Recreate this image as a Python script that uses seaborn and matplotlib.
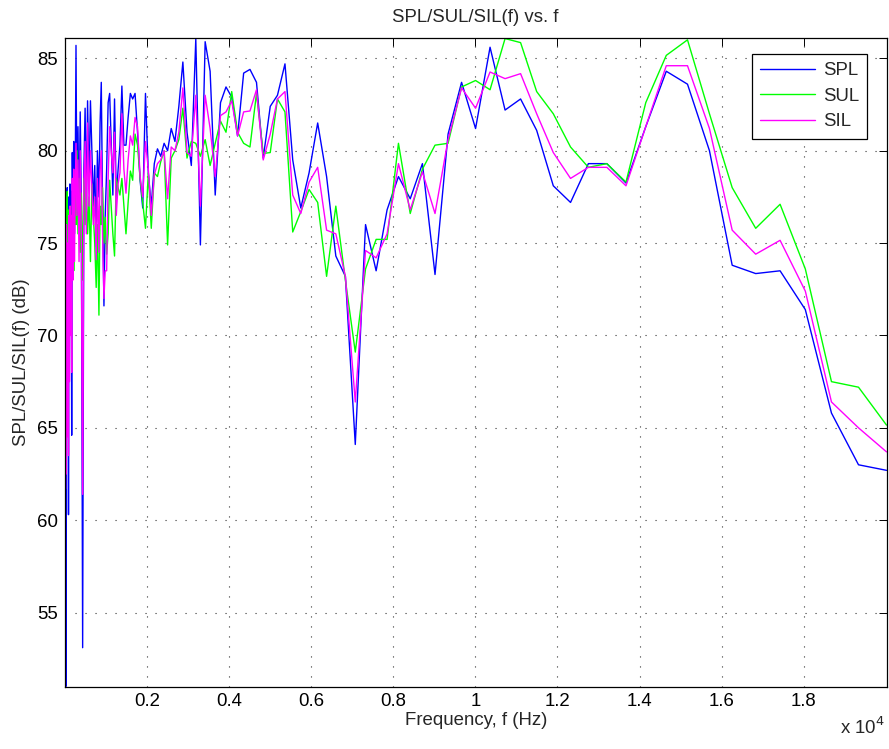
import matplotlib
matplotlib.use("Agg")
import matplotlib.pyplot as plt
import numpy as np
import pandas as pd
import seaborn as sns

# ---------------- data ----------------
freq_hz = [
    3, 10, 20, 28, 36, 45, 55, 65, 75, 85, 96, 108, 120, 133, 147, 163, 178, 195, 212, 230,
    249, 268, 290, 316, 342, 371, 398, 430, 460, 490, 520, 550, 585, 620, 655, 690, 725, 760,
    790, 827, 855, 884, 915, 949, 980,
    1015, 1051, 1088, 1126, 1166, 1207, 1249, 1294, 1339, 1386, 1435, 1486, 1538, 1593, 1649,
    1707, 1767, 1830, 1894, 1961, 2030, 2102, 2176, 2253, 2332, 2415, 2500, 2588, 2679, 2774,
    2872, 2973, 3078, 3187, 3299, 3415, 3536, 3660, 3789, 3923,
    4062, 4205, 4353, 4507, 4666, 4830, 5001, 5177, 5360, 5549, 5745, 5947, 6157, 6374, 6599,
    6832, 7073, 7323, 7581, 7848, 8125, 8412, 8709, 9016, 9334, 9663, 10004, 10357, 10723,
    11101, 11493, 11898, 12318, 12753, 13203, 13669, 14151, 14651, 15168, 15703, 16257, 16830,
    17424, 18039, 18676, 19335, 20017,
]

spl_db = [
    78.0, 76.0, 51.0, 55.0, 77.8, 72.0, 78.0, 68.0, 76.5, 60.3, 77.5, 70.0, 78.2, 73.5, 77.8,
    64.6, 79.9, 74.0, 80.5, 75.5, 78.5, 85.7, 77.0, 81.3, 76.0, 82.1, 77.0, 53.1, 79.0, 82.3,
    76.5, 82.7, 78.0, 82.7, 80.0, 77.0, 79.2, 74.8, 80.0, 77.5, 81.5, 83.7, 77.0, 71.6, 76.5,
    79.0, 82.6, 83.1, 80.5, 77.6, 82.8, 77.4, 79.0, 80.3, 83.5, 80.3, 80.3, 81.8, 83.1, 82.8,
    83.1, 81.0, 78.4, 76.9, 83.1, 78.8, 77.0, 79.3, 80.1, 79.7, 80.4, 80.0, 81.2, 80.5, 82.4,
    84.8, 81.0, 79.2, 86.05, 74.9, 85.9, 84.3, 77.6, 82.6, 83.45,
    82.9, 80.8, 84.2, 84.4, 83.7, 79.6, 82.4, 83.0, 84.7, 79.5, 76.9, 78.8, 81.5, 78.6, 74.3,
    73.2, 64.1, 76.0, 73.5, 76.8, 78.6, 77.4, 79.3, 73.3, 80.9, 83.7, 81.2, 85.6, 82.2,
    82.8, 81.1, 78.1, 77.2, 79.3, 79.3, 78.25, 81.3, 84.3, 83.6, 80.0, 73.8, 73.35,
    73.5, 71.4, 65.8, 63.0, 62.7,
]

sul_db = [
    81.8, 70.0, 77.5, 69.8, 76.0, 72.5, 77.8, 71.0, 75.5, 73.0, 76.8, 72.0, 75.5, 77.0, 73.5,
    76.0, 74.0, 77.5, 73.5, 76.5, 78.0, 76.0, 80.0, 75.5, 78.5, 74.5, 77.7, 73.0, 78.5, 76.0,
    78.0, 75.5, 77.5, 74.0, 78.2, 76.5, 75.0, 72.6, 76.0, 71.1, 77.0, 76.0, 78.0, 75.0, 76.4,
    74.4, 75.5, 78.4, 77.0, 75.5, 74.3, 78.5, 78.0, 77.6, 78.5, 77.0, 75.5, 77.2, 78.9, 78.4,
    80.9, 80.3, 78.5, 77.2, 75.8, 78.8, 75.8, 78.8, 78.6, 79.4, 80.0, 74.9, 79.6, 80.0, 80.6,
    82.3, 79.6, 80.5, 80.4, 79.7, 80.6, 79.2, 80.4, 81.6, 81.0,
    83.2, 81.0, 80.4, 80.2, 83.1, 79.85, 79.9, 82.8, 82.1, 75.6, 76.7, 77.9, 77.2, 73.2, 77.0,
    73.0, 69.1, 73.6, 75.2, 75.2, 80.4, 76.6, 79.0, 80.3, 80.4, 83.45, 83.8, 83.3, 86.07,
    85.85, 83.2, 82.0, 80.2, 79.1, 79.3, 78.3, 82.6, 85.16, 86.0, 82.0, 78.0, 75.8,
    77.1, 73.6, 67.5, 67.2, 65.15,
]

sil_db = [
    68.0, 61.7, 70.0, 62.5, 76.0, 64.5, 75.0, 66.0, 74.5, 63.5, 76.5, 67.5, 77.0, 70.0, 76.5,
    68.0, 78.5, 73.0, 79.0, 74.0, 77.5, 80.4, 76.5, 79.5, 74.0, 80.0, 75.0, 61.4, 78.0, 80.5,
    75.5, 81.5, 77.0, 80.0, 78.0, 76.0, 77.5, 74.1, 78.5, 74.5, 79.0, 80.0, 75.5, 72.0, 73.5,
    73.5, 78.5, 81.3, 80.0, 78.8, 81.0, 76.5, 78.2, 78.8, 82.0, 79.0, 77.7, 79.5, 80.8, 80.3,
    81.8, 81.3, 78.6, 77.5, 80.5, 79.0, 76.5, 78.7, 79.3, 79.5, 80.0, 77.4, 80.2, 80.0, 81.0,
    83.4, 79.9, 79.7, 83.0, 77.0, 83.0, 81.2, 78.6, 81.9, 82.1,
    82.7, 80.8, 82.1, 82.15, 83.3, 79.5, 80.9, 82.8, 83.2, 77.6, 76.6, 78.3, 79.1, 75.7, 75.5,
    73.2, 66.4, 74.6, 74.2, 75.5, 79.3, 76.8, 78.85, 76.6, 80.6, 83.4, 82.3, 84.26, 83.9,
    84.17, 82.0, 79.9, 78.5, 79.1, 79.1, 78.1, 81.3, 84.6, 84.6, 81.2, 75.7, 74.4,
    75.15, 72.4, 66.4, 65.0, 63.7,
]

series_names = ["SPL", "SUL", "SIL"]
series_colors = ["#0000ff", "#00ff00", "#ff00ff"]
x_ticks = [2000, 4000, 6000, 8000, 10000, 12000, 14000, 16000, 18000]
x_tick_labels = ["0.2", "0.4", "0.6", "0.8", "1", "1.2", "1.4", "1.6", "1.8"]
y_ticks = [55, 60, 65, 70, 75, 80, 85]

# ---------------- figure ----------------
sns.set_style("white")
plt.rcParams["font.family"] = ["Liberation Sans", "DejaVu Sans"]
FS = 13.4
plt.rcParams["font.size"] = FS

df = pd.DataFrame({
    "f": freq_hz * 3,
    "level": spl_db + sul_db + sil_db,
    "series": [n for n in series_names for _ in freq_hz],
})

fig = plt.figure(figsize=(8.89, 7.49), dpi=100)
ax = fig.add_axes([65 / 889, 1 - 686.5 / 749, (886.5 - 65) / 889, (686.5 - 38) / 749])

sns.lineplot(data=df, x="f", y="level", hue="series", hue_order=series_names,
             palette=dict(zip(series_names, series_colors)), estimator=None,
             sort=False, linewidth=1.0, ax=ax)

ax.set_xlim(0, freq_hz[-1])
ax.set_ylim(51.0, 86.1)
ax.set_xticks(x_ticks)
ax.set_xticklabels(x_tick_labels)
ax.set_yticks(y_ticks)

ax.set_axisbelow(True)
ax.grid(True, color="0.2", linestyle=(0, (1, 8)), linewidth=0.8)
ax.tick_params(direction="in", length=5.5, width=0.7, top=True, right=True,
               labelsize=FS, colors="black", pad=5)
for s in ax.spines.values():
    s.set_color("black")
    s.set_linewidth(0.9)

ax.set_title("SPL/SUL/SIL(f) vs. f", fontsize=FS, pad=11.5)
ax.set_xlabel("Frequency, f (Hz)", fontsize=FS, labelpad=1)
ax.set_ylabel("SPL/SUL/SIL(f) (dB)", fontsize=FS, labelpad=5)

fig.text(862 / 889, 1 - 727 / 749, r"x 10$^{4}$", ha="center", va="center", fontsize=FS)

handles, labels = ax.get_legend_handles_labels()
leg = ax.legend(handles, labels, loc="upper right",
                bbox_to_anchor=((867.3 - 65) / (886.5 - 65), (686.5 - 54) / (686.5 - 38)),
                borderaxespad=0, frameon=True, fancybox=False, edgecolor="black",
                framealpha=1, fontsize=FS, handlelength=2.95, handletextpad=0.4,
                labelspacing=0.45, borderpad=0.45)
leg.get_frame().set_linewidth(0.9)

fig.savefig("out.png", dpi=100, facecolor="white")
